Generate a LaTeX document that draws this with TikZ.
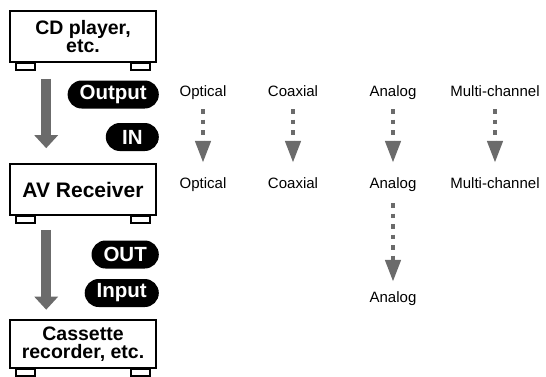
\documentclass[tikz,border=0pt]{standalone}
\usepackage{fontspec}
\setmainfont{Liberation Sans}
\usetikzlibrary{arrows.meta}
\definecolor{arrowgray}{HTML}{6B6B6B}
\tikzset{
  device/.style={draw,line width=1.6pt,fill=white,minimum width=146pt,minimum height=51pt,
    align=center,inner sep=0pt,font=\bfseries\fontsize{19.5}{18}\selectfont},
  foot/.style={draw,line width=1.6pt,fill=white},
  pill/.style={fill=black,text=white,rounded corners=14pt,minimum height=28pt,inner xsep=12pt,
    inner ysep=0pt,anchor=east,font=\bfseries\fontsize{20.5}{22}\selectfont},
  jack/.style={anchor=base,inner sep=0pt,text height=11pt,text depth=3pt,font=\fontsize{15}{17}\selectfont},
  bigarrow/.style={draw=arrowgray,line width=10.5pt,-{Triangle[width=23pt,length=13pt]}},
  dotarrow/.style={draw=arrowgray,line width=4.5pt,dash pattern=on 4.5pt off 6pt,-{Triangle[width=15pt,length=22pt]}},
}
\begin{document}
\begin{tikzpicture}[x=1pt,y=-1pt]
	\useasboundingbox (0,0) rectangle (546,376);
	% devices
	\node[device] (cd) at (83,36.5) {CD player,\\etc.};
	\node[device,font=\bfseries\fontsize{21}{22}\selectfont] (av) at (83,189.5) {AV Receiver};
	\node[device,minimum height=48pt] (rec) at (83,344) {Cassette\\recorder, etc.};
	\foreach \dev in {cd,av,rec}{
		\draw[foot] ([xshift=7pt]\dev.south west) rectangle ++(19,7);
		\draw[foot] ([xshift=-7pt]\dev.south east) rectangle ++(-19,7);
	}
	% signal flow
	\draw[bigarrow] ([xshift=37pt,yshift=-16pt]cd.south west) -- ([xshift=37pt,yshift=15pt]av.north west);
	\draw[bigarrow] ([xshift=37pt,yshift=-14pt]av.south west) -- ([xshift=37pt,yshift=9.5pt]rec.north west);
	\node[pill] (output) at (159,94.5) {Output};
	\node[pill,minimum width=53pt] (in) at (159,137) {IN};
	\node[pill] (out) at (159,254.5) {OUT};
	\node[pill] (input) at (159,293) {Input};
	% jacks
	\foreach \x/\name/\txt in {203/opt/Optical,293/coax/Coaxial,393/ana/Analog,495/multi/Multi-channel}{
		\node[jack] (\name1) at (\x,96) {\txt};
		\node[jack] (\name2) at (\x,188) {\txt};
		\draw[dotarrow,shorten <=10pt,shorten >=14pt] (\name1) -- (\name2);
	}
	\node[jack] (ana3) at (393,302) {Analog};
	\draw[dotarrow,shorten <=12pt,shorten >=9pt] (ana2) -- (ana3);
\end{tikzpicture}
\end{document}
